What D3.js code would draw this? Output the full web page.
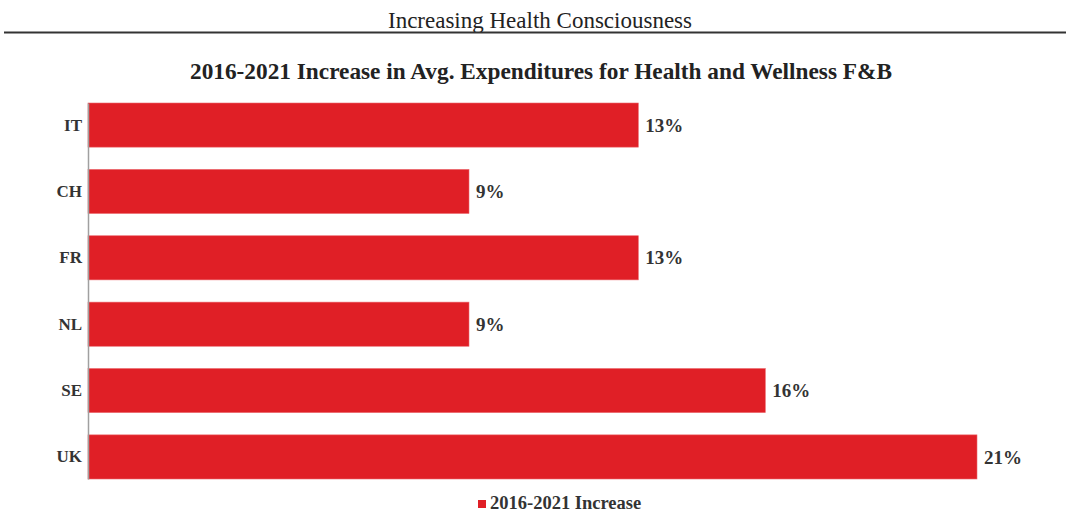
<!DOCTYPE html>
<html>
<head>
<meta charset="utf-8">
<script src="https://cdn.jsdelivr.net/npm/d3@7"></script>
<style>
  body { margin: 0; background: #fff; font-family: "Liberation Serif", "Times New Roman", serif; }
</style>
</head>
<body>
<script>
const countries = ["IT", "CH", "FR", "NL", "SE", "UK"];
const increase = [13, 9, 13, 9, 16, 21];
const seriesName = "2016-2021 Increase";

const width = 1066;
const height = 512;
const barColor = "#e01f26";

const svg = d3.select("body")
  .append("svg")
  .attr("width", width)
  .attr("height", height);

// page header
svg.append("text")
  .attr("x", 540)
  .attr("y", 28)
  .attr("text-anchor", "middle")
  .style("font-size", "23px")
  .style("fill", "#222")
  .text("Increasing Health Consciousness");

svg.append("line")
  .attr("x1", 4).attr("x2", width)
  .attr("y1", 32.5).attr("y2", 32.5)
  .attr("stroke", "#333")
  .attr("stroke-width", 2);

svg.append("text")
  .attr("x", 541)
  .attr("y", 79)
  .attr("text-anchor", "middle")
  .style("font-size", "23.3px")
  .style("font-weight", "bold")
  .style("fill", "#222")
  .text("2016-2021 Increase in Avg. Expenditures for Health and Wellness F&B");

// scales
const x = d3.scaleLinear()
  .domain([0, 21])
  .range([88, 977]);

const y = d3.scaleBand()
  .domain(countries)
  .range([103, 479])
  .paddingInner(0.335)
  .paddingOuter(0);

const data = countries.map((c, i) => ({ country: c, value: increase[i] }));

svg.selectAll("rect.bar")
  .data(data)
  .enter()
  .append("rect")
  .attr("class", "bar")
  .attr("x", x(0))
  .attr("y", (d) => y(d.country))
  .attr("width", (d) => x(d.value) - x(0))
  .attr("height", y.bandwidth())
  .attr("fill", barColor)
  .attr("stroke", "#ec6a6f")
  .attr("stroke-width", 0.6);

// y axis
const yAxis = d3.axisLeft(y).tickSize(0).tickPadding(6);
const gy = svg.append("g")
  .attr("transform", `translate(${x(0)},0)`)
  .call(yAxis);
gy.select(".domain").attr("stroke", "#a0a0a0").attr("stroke-width", 1.5);
gy.selectAll("text")
  .style("font-family", "Liberation Serif, serif")
  .style("font-size", "17px")
  .style("font-weight", "bold")
  .style("fill", "#333");

// value labels
svg.selectAll("text.value")
  .data(data)
  .enter()
  .append("text")
  .attr("class", "value")
  .attr("x", (d) => x(d.value) + 7)
  .attr("y", (d) => y(d.country) + y.bandwidth() / 2)
  .attr("dy", "0.35em")
  .style("font-size", "19px")
  .style("font-weight", "bold")
  .style("fill", "#333")
  .text((d) => d.value + "%");

// legend
const legend = svg.append("g").attr("transform", "translate(478,500)");
legend.append("rect")
  .attr("width", 8)
  .attr("height", 8)
  .attr("fill", barColor);
legend.append("text")
  .attr("x", 12)
  .attr("y", 9)
  .style("font-size", "18.5px")
  .style("font-weight", "bold")
  .style("fill", "#333")
  .text(seriesName);
</script>
</body>
</html>
